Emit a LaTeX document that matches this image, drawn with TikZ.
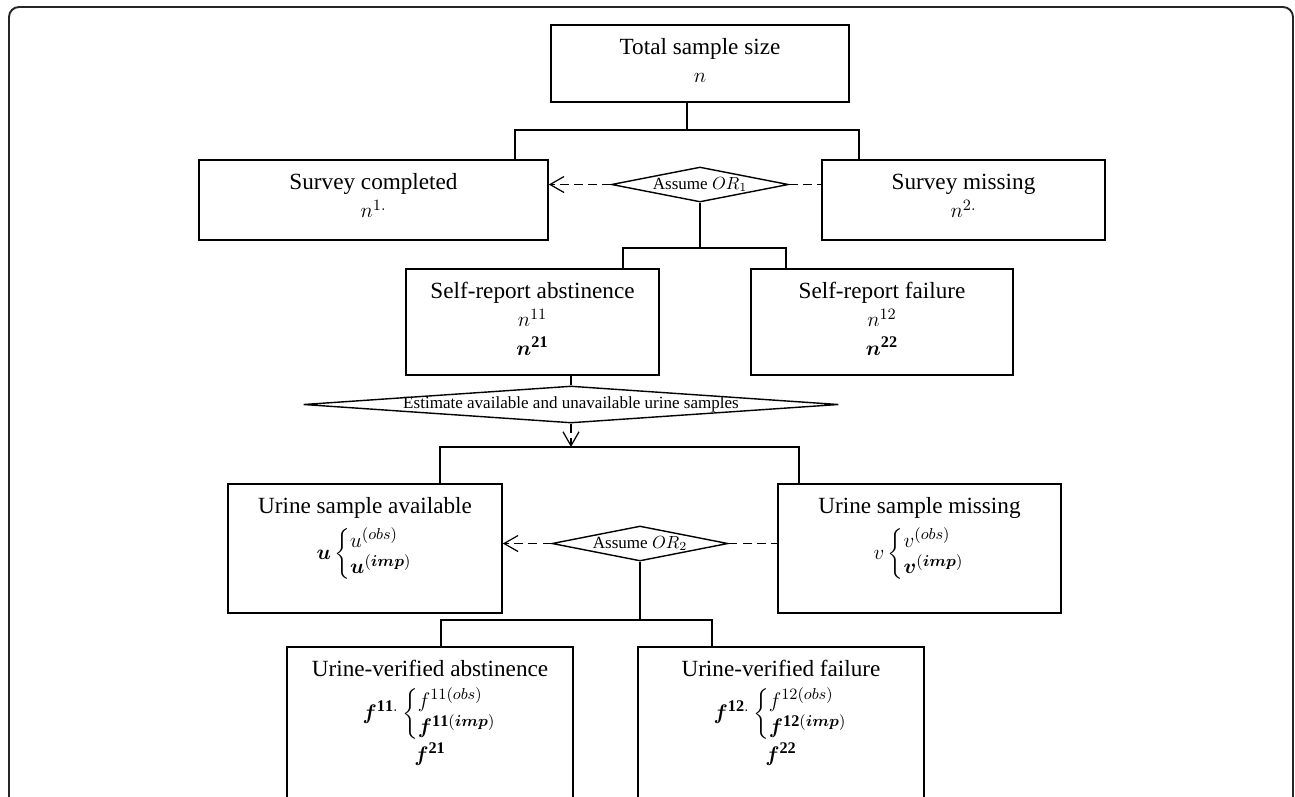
\documentclass[tikz,border=0pt]{standalone}
\usepackage{fontspec}
\setmainfont{Liberation Serif}
\usepackage{amsmath,bm}
\usetikzlibrary{shapes.geometric,arrows.meta}

\newdimen\pxu \pxu=0.02cm
\newcommand{\boxtext}[3]{\begin{minipage}[c][#2\pxu][t]{#1\pxu}\centering
  \fontsize{13.2}{16}\selectfont\renewcommand{\arraystretch}{0.85}\rule{0pt}{17pt}#3\end{minipage}}

\begin{document}
\begin{tikzpicture}[x=0.02cm, y=-0.02cm,
  box/.style={draw, inner sep=0pt, line width=0.9pt},
  decision/.style={diamond, draw, inner sep=0pt, line width=0.8pt,
    label={[font=\fontsize{9.7}{11}\selectfont]center:#1}},
  link/.style={line width=0.8pt},
  opt/.style={dashed, dash pattern=on 5pt off 3pt, line width=0.7pt},
  >={Straight Barb[length=2.8mm, width=3.2mm]}]
 \path[use as bounding box] (0,0) rectangle (1295,796);
 \clip (0,0) rectangle (1295,796);
 \draw[rounded corners=2mm, line width=1.1pt, black!85] (9,7) rectangle (1293,860);

 \node[box] (total)   at (700,63.5)  {\boxtext{298}{77}{Total sample size\\ $n$}};
 \node[box] (surveyc) at (373.5,200) {\boxtext{349}{80}{Survey completed\\ $n^{1.}$}};
 \node[box] (surveym) at (963.5,200) {\boxtext{283}{80}{Survey missing\\ $n^{2.}$}};
 \node[box] (srabst)  at (532.5,322) {\boxtext{253}{106}{Self-report abstinence\\ $n^{11}$\\ $\bm{n}^{\mathbf{21}}$}};
 \node[box] (srfail)  at (882,322)   {\boxtext{262}{106}{Self-report failure\\ $n^{12}$\\ $\bm{n}^{\mathbf{22}}$}};
 \node[box] (uavail)  at (365,548.5) {\boxtext{274}{129}{Urine sample available\\[4pt]
   $\bm{u}\left\{\begin{array}{@{}l@{}} u^{(obs)}\\ \bm{u}^{(\bm{imp})}\end{array}\right.$}};
 \node[box] (umiss)   at (919.5,548.5) {\boxtext{283}{129}{Urine sample missing\\[4pt]
   $v\left\{\begin{array}{@{}l@{}} v^{(obs)}\\ \bm{v}^{(\bm{imp})}\end{array}\right.$}};
 \node[box] (uvabst)  at (430,743.5) {\boxtext{286}{193}{Urine-verified abstinence\\[5pt]
   $\bm{f}^{\mathbf{11.}}\left\{\begin{array}{@{}l@{}} f^{11(obs)}\\ \bm{f}^{\mathbf{11}(\bm{imp})}\end{array}\right.$\\
   $\bm{f}^{\mathbf{21}}$}};
 \node[box] (uvfail)  at (781,743.5) {\boxtext{286}{193}{Urine-verified failure\\[5pt]
   $\bm{f}^{\mathbf{12.}}\left\{\begin{array}{@{}l@{}} f^{12(obs)}\\ \bm{f}^{\mathbf{12}(\bm{imp})}\end{array}\right.$\\
   $\bm{f}^{\mathbf{22}}$}};

 \node[decision={Assume $OR_1$}, minimum width=177*0.02cm, minimum height=35*0.02cm] (or1) at (700,184.5) {};
 \node[decision={Estimate available and unavailable urine samples}, minimum width=535*0.02cm, minimum height=37*0.02cm] (est) at (571,404.5) {};
 \node[decision={Assume $OR_2$}, minimum width=176*0.02cm, minimum height=35*0.02cm] (or2) at (640,543.5) {};

 \coordinate (b1) at (687,130);
 \coordinate (b1l) at (515,130);
 \coordinate (b1r) at (859,130);
 \coordinate (b2l) at (623,248);
 \coordinate (b2r) at (786,248);
 \coordinate (b3l) at (440,447);
 \coordinate (b3r) at (799,447);
 \coordinate (b4l) at (441,620);
 \coordinate (b4r) at (712,620);

 \draw[link] (b1 |- total.south) -- (b1);
 \draw[link] (b1l |- surveyc.north) |- (b1r) -- (b1r |- surveym.north);
 \draw[opt, ->] (or1.west) -- (or1.west -| surveyc.east);
 \draw[opt] (or1.east) -- (or1.east -| surveym.west);
 \draw[link] (or1.south) -- (or1.south |- b2l);
 \draw[link] (b2l |- srabst.north) |- (b2r) -- (b2r |- srfail.north);
 \draw[opt] (est.north |- srabst.south) -- (est.north);
 \draw[opt, ->] (est.south) -- (est.south |- b3l);
 \draw[link] (b3l |- uavail.north) |- (b3r) -- (b3r |- umiss.north);
 \draw[opt, ->] (or2.west) -- (or2.west -| uavail.east);
 \draw[opt] (or2.east) -- (or2.east -| umiss.west);
 \draw[link] (or2.south) -- (or2.south |- b4l);
 \draw[link] (b4l |- uvabst.north) |- (b4r) -- (b4r |- uvfail.north);
\end{tikzpicture}
\end{document}
